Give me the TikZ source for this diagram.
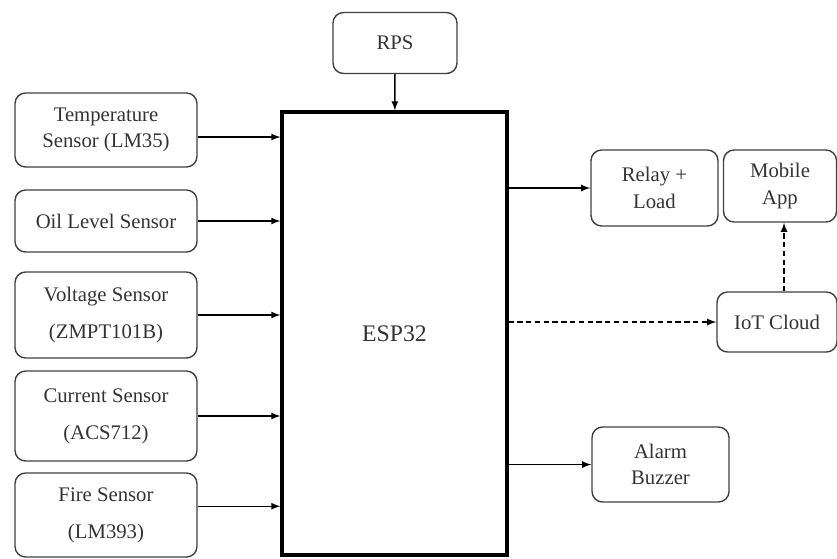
\documentclass[tikz,border=0pt]{standalone}
\usepackage{fontspec}
\setmainfont{Liberation Serif}
\usepackage{tikz}
\usetikzlibrary{positioning,shapes,arrows}
\tikzset{every picture/.style={line width=0.8pt}}
\tikzset{
    blockbox/.style={draw=black!75, rectangle, rounded corners=6pt, align=center, inner sep=0pt, text=black!80, font=\fontsize{11.8}{15}\selectfont},
    sensorbox/.style={blockbox, minimum width=3.64cm},
    dashlink/.style={->, dash pattern=on 3pt off 2pt}
}
\begin{document}
\begin{tikzpicture}[x=0.02cm, y=-0.02cm, >=latex]
    \useasboundingbox (0,0) rectangle (837,558);

    % ESP32 Controller
    \node[draw, rectangle, line width=1.8pt, minimum width=4.5cm, minimum height=8.86cm, text=black!80, font=\fontsize{13.5}{16}\selectfont] (esp) at (394.5,333.5) {ESP32};

    % Power Supply
    \node[blockbox, minimum width=2.48cm, minimum height=1.22cm] (rps) at (395,43) {RPS};

    % Sensors
    \node[sensorbox, minimum height=1.48cm] (temp) at (106,130) {Temperature\\Sensor (LM35)};
    \node[sensorbox, minimum height=1.24cm] (oil) at (106,221) {Oil Level Sensor};
    \node[sensorbox, minimum height=1.72cm] (volt) at (106,315) {Voltage Sensor\\[6pt](ZMPT101B)};
    \node[sensorbox, minimum height=1.8cm] (curr) at (106,416) {Current Sensor\\[6pt](ACS712)};
    \node[sensorbox, minimum height=1.68cm] (fire) at (106,515) {Fire Sensor\\[6pt](LM393)};

    % Outputs
    \node[blockbox, minimum width=2.54cm, minimum height=1.52cm] (relay) at (654.5,188) {Relay +\\Load};
    \node[blockbox, minimum width=2.26cm, minimum height=1.44cm] (mobile) at (780,186) {Mobile\\App};
    \node[blockbox, minimum width=2.4cm, minimum height=1.2cm] (cloud) at (777,322) {IoT Cloud};
    \node[blockbox, minimum width=2.74cm, minimum height=1.5cm] (alarm) at (660.5,464.5) {Alarm\\Buzzer};

    % Connections
    \draw[->] (rps) -- (esp);
    \draw[->] ([yshift=-4pt]temp.east) -- ([yshift=-4pt]temp.east -| esp.west);
    \draw[->] (oil.east) -- (oil.east -| esp.west);
    \draw[->] (volt.east) -- (volt.east -| esp.west);
    \draw[->] (curr.east) -- (curr.east -| esp.west);
    \draw[->] ([yshift=5pt]fire.east) -- ([yshift=5pt]fire.east -| esp.west);
    \draw[->] (esp.east |- relay.west) -- (relay.west);
    \draw[dashlink] (esp.east |- cloud.west) -- (cloud.west);
    \draw[dashlink] ([xshift=4pt]cloud.north) -- ([xshift=4pt]cloud.north |- mobile.south);
    \draw[->] (esp.east |- alarm.west) -- (alarm.west);
\end{tikzpicture}
\end{document}
